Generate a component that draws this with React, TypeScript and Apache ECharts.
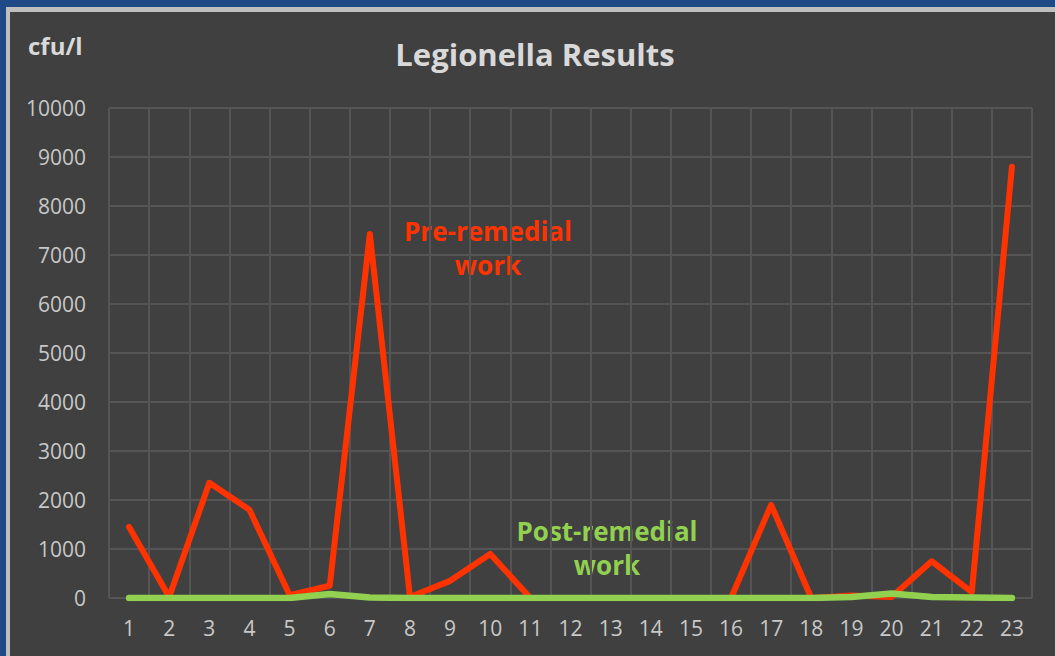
import React, { useEffect, useRef } from "react";
import * as echarts from "echarts";

const categories = ["1","2","3","4","5","6","7","8","9","10","11","12","13","14","15","16","17","18","19","20","21","22","23"];
const preRemedial = [1450, 20, 2350, 1800, 60, 250, 7430, 20, 350, 900, 0, 0, 0, 0, 0, 0, 1900, 0, 50, 20, 750, 120, 8800];
const postRemedial = [0, 0, 0, 0, 0, 80, 10, 0, 0, 0, 0, 0, 0, 0, 0, 0, 0, 0, 20, 90, 20, 10, 0];
const yTicks = { min: 0, max: 10000, interval: 1000 };

const FONT = "'Open Sans', sans-serif";

export default function App() {
  const ref = useRef<HTMLDivElement>(null);
  useEffect(() => {
    if (!ref.current) return;
    const chart = echarts.init(ref.current, null, { renderer: "svg" });
    chart.setOption({
      animation: false,
      backgroundColor: "#404040",
      grid: { left: 99, right: 23, top: 96, bottom: 58, containLabel: false },
      xAxis: {
        type: "category",
        data: categories,
        boundaryGap: true,
        axisLine: { show: false },
        axisTick: { show: false },
        axisLabel: { color: "#c8c8c8", fontSize: 21, fontFamily: FONT, margin: 19 },
        splitLine: { show: true, lineStyle: { color: "#555555", width: 2 } },
      },
      yAxis: {
        type: "value",
        min: yTicks.min,
        max: yTicks.max,
        interval: yTicks.interval,
        axisLine: { show: false },
        axisTick: { show: false },
        axisLabel: {
          color: "#c8c8c8",
          fontSize: 21,
          fontFamily: FONT,
          margin: 23,
          formatter: (v: number) => String(v),
        },
        splitLine: { show: true, lineStyle: { color: "#555555", width: 2 } },
      },
      series: [
        {
          name: "Pre-remedial work",
          type: "line",
          data: preRemedial,
          symbol: "none",
          lineStyle: { color: "#ff3300", width: 6, cap: "round", join: "round" },
        },
        {
          name: "Post-remedial work",
          type: "line",
          data: postRemedial,
          symbol: "none",
          lineStyle: { color: "#92d050", width: 6.5, cap: "round", join: "round" },
        },
      ],
      graphic: [
        {
          type: "text",
          x: 525,
          y: 42,
          style: {
            text: "Legionella Results",
            fill: "#d9d9d9",
            font: `bold 31px ${FONT}`,
            textAlign: "center",
            textVerticalAlign: "middle",
          },
        },
        {
          type: "text",
          x: 18,
          y: 33,
          style: {
            text: "cfu/l",
            fill: "#d9d9d9",
            font: `bold 24px ${FONT}`,
            textAlign: "left",
            textVerticalAlign: "middle",
          },
        },
        {
          type: "text",
          x: 478,
          y: 236,
          style: {
            text: "Pre-remedial\nwork",
            fill: "#ff3300",
            font: `bold 26px ${FONT}`,
            lineHeight: 34,
            textAlign: "center",
            textVerticalAlign: "middle",
          },
        },
        {
          type: "text",
          x: 597,
          y: 536,
          style: {
            text: "Post-remedial\nwork",
            fill: "#92d050",
            font: `bold 26px ${FONT}`,
            lineHeight: 34,
            textAlign: "center",
            textVerticalAlign: "middle",
          },
        },
      ],
    });
    return () => chart.dispose();
  }, []);

  return (
    <div style={{ position: "fixed", left: 0, top: 0, width: 1055, height: 656, background: "#1f4a86", overflow: "hidden" }}>
      <div style={{ position: "absolute", left: 6, top: 7, width: 1049, height: 649, background: "#bfbfbf" }} />
      <div ref={ref} style={{ position: "absolute", left: 10, top: 12, width: 1045, height: 644 }} />
    </div>
  );
}
